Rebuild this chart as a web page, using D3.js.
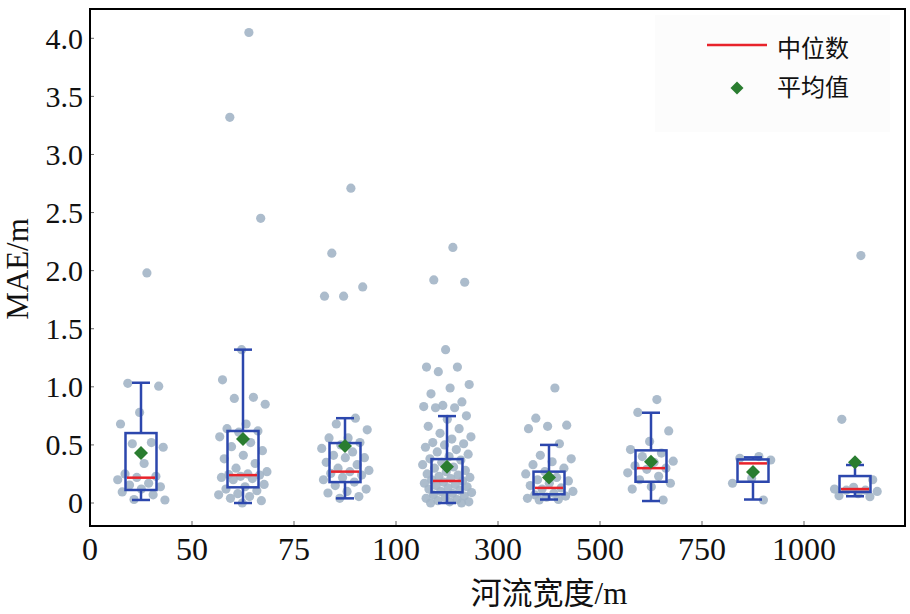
<!DOCTYPE html>
<html>
<head>
<meta charset="utf-8">
<script src="https://cdn.jsdelivr.net/npm/d3@7"></script>
<style>
  body { margin: 0; background: #fff; }
  svg text { font-family: "Liberation Serif", "Noto Sans CJK SC", serif; fill: #111; }
</style>
</head>
<body>
<div class="canvas"></div>
<script>
// river width bins and the tick labels drawn at their left edges
const bins = ['0-50', '50-75', '75-100', '100-300', '300-500', '500-750', '750-1000', '>1000'];
const tickLabels = ['0', '50', '75', '100', '300', '500', '750', '1000'];
const yTicks = [0, 0.5, 1.0, 1.5, 2.0, 2.5, 3.0, 3.5, 4.0];

// box statistics
const q1 = [0.112, 0.135, 0.18, 0.092, 0.075, 0.183, 0.183, 0.095];
const median = [0.218, 0.24, 0.27, 0.19, 0.13, 0.30, 0.341, 0.12];
const q3 = [0.602, 0.62, 0.516, 0.378, 0.27, 0.453, 0.375, 0.232];
const whiskerLow = [0.026, 0.0, 0.04, 0.0, 0.03, 0.017, 0.03, 0.058];
const whiskerHigh = [1.035, 1.32, 0.73, 0.748, 0.50, 0.777, 0.393, 0.327];
const mean = [0.43, 0.55, 0.49, 0.312, 0.22, 0.355, 0.267, 0.35];

// MAE of every river in each bin
const mae0 = [1.98, 1.03, 1.006, 0.78, 0.68, 0.52, 0.51, 0.48, 0.34, 0.25, 0.23, 0.22, 0.20, 0.17, 0.155, 0.14, 0.12, 0.095, 0.07, 0.03, 0.026];
const mae1 = [4.05, 3.32, 2.45, 1.32, 1.06, 0.91, 0.90, 0.85, 0.68, 0.64, 0.62, 0.61, 0.57, 0.52, 0.485, 0.45, 0.41, 0.38, 0.34, 0.30, 0.27, 0.25, 0.245, 0.24, 0.23, 0.22, 0.21, 0.20, 0.16, 0.14, 0.12, 0.106, 0.08, 0.07, 0.055, 0.04, 0.02, 0.0];
const mae2 = [2.71, 2.15, 1.86, 1.78, 1.78, 0.73, 0.68, 0.63, 0.56, 0.56, 0.52, 0.50, 0.47, 0.44, 0.41, 0.39, 0.39, 0.35, 0.33, 0.30, 0.28, 0.27, 0.255, 0.24, 0.22, 0.20, 0.18, 0.15, 0.12, 0.10, 0.086, 0.055, 0.04];
const mae3 = [2.20, 1.92, 1.90, 1.32, 1.17, 1.17, 1.13, 1.02, 0.99, 0.94, 0.87, 0.84, 0.83, 0.82, 0.82, 0.75, 0.72, 0.66, 0.64, 0.60, 0.57, 0.55, 0.52, 0.51, 0.50, 0.48, 0.46, 0.44, 0.42, 0.40, 0.38, 0.37, 0.35, 0.33, 0.31, 0.30, 0.28, 0.27, 0.25, 0.24, 0.23, 0.22, 0.21, 0.20, 0.19, 0.18, 0.17, 0.16, 0.15, 0.14, 0.13, 0.12, 0.11, 0.10, 0.09, 0.083, 0.07, 0.06, 0.05, 0.04, 0.03, 0.02, 0.01, 0.01, 0.0, 0.0];
const mae4 = [0.99, 0.73, 0.67, 0.66, 0.64, 0.51, 0.41, 0.38, 0.355, 0.33, 0.30, 0.27, 0.25, 0.22, 0.20, 0.19, 0.17, 0.15, 0.13, 0.12, 0.10, 0.083, 0.07, 0.06, 0.05, 0.04, 0.03, 0.026];
const mae5 = [0.89, 0.78, 0.62, 0.53, 0.46, 0.43, 0.40, 0.36, 0.35, 0.32, 0.30, 0.29, 0.26, 0.23, 0.20, 0.17, 0.14, 0.12, 0.026];
const mae6 = [0.40, 0.385, 0.37, 0.21, 0.17, 0.026];
const mae7 = [2.13, 0.72, 0.20, 0.135, 0.12, 0.11, 0.11, 0.10, 0.08, 0.063, 0.054];
const maeByBin = [mae0, mae1, mae2, mae3, mae4, mae5, mae6, mae7];

const blue = '#2c47ad', red = '#e8232b', green = '#2a7d30', dot = '#a3b5c7';

const svg = d3.select('.canvas')
  .append('svg')
  .attr('width', 910)
  .attr('height', 614);

const x = d3.scaleBand().domain(bins).range([90, 906]);
const y = d3.scaleLinear().domain([0, 4]).range([503, 38.3]);

// faint legend panel
svg.append('rect')
  .attr('x', 655).attr('y', 15).attr('width', 235).attr('height', 117)
  .attr('fill', '#fcfcfc');

// ticks pointing inward
svg.append('g').selectAll('line')
  .data(yTicks)
  .enter().append('line')
  .attr('x1', 90).attr('x2', 94)
  .attr('y1', d => y(d)).attr('y2', d => y(d))
  .attr('stroke', '#666').attr('stroke-width', 1);

svg.append('g').selectAll('line')
  .data(bins.slice(1))
  .enter().append('line')
  .attr('x1', d => x(d)).attr('x2', d => x(d))
  .attr('y1', 526).attr('y2', 521)
  .attr('stroke', '#666').attr('stroke-width', 1);

svg.append('g').selectAll('text')
  .data(yTicks)
  .enter().append('text')
  .attr('x', 83)
  .attr('y', d => y(d))
  .attr('dy', '0.34em')
  .attr('text-anchor', 'end')
  .style('font-size', '30px')
  .text(d => d === 0 ? '0' : d.toFixed(1));

svg.append('g').selectAll('text')
  .data(bins)
  .enter().append('text')
  .attr('x', d => x(d))
  .attr('y', 560)
  .attr('text-anchor', 'middle')
  .style('font-size', '32px')
  .text((d, i) => tickLabels[i]);

// jittered points, spread with a fixed golden-ratio sequence
const points = [];
maeByBin.forEach((vals, b) => {
  vals.forEach((v, i) => {
    const f = ((i + 1) * 0.6180339887) % 1;
    points.push({ bin: bins[b], value: v, off: (f - 0.5) * 50 });
  });
});

svg.append('g').selectAll('circle')
  .data(points)
  .enter().append('circle')
  .attr('cx', d => x(d.bin) + x.bandwidth() / 2 + d.off)
  .attr('cy', d => y(d.value))
  .attr('r', 4.6)
  .attr('fill', dot)
  .attr('fill-opacity', 0.9);

// boxes
const boxes = svg.append('g').selectAll('g')
  .data(bins)
  .enter().append('g')
  .attr('transform', d => `translate(${x(d) + x.bandwidth() / 2}, 0)`);

boxes.append('line')
  .attr('x1', 0).attr('x2', 0)
  .attr('y1', (d, i) => y(q3[i])).attr('y2', (d, i) => y(whiskerHigh[i]))
  .attr('stroke', blue).attr('stroke-width', 2.5);

boxes.append('line')
  .attr('x1', 0).attr('x2', 0)
  .attr('y1', (d, i) => y(q1[i])).attr('y2', (d, i) => y(whiskerLow[i]))
  .attr('stroke', blue).attr('stroke-width', 2.5);

boxes.append('line')
  .attr('x1', -9).attr('x2', 9)
  .attr('y1', (d, i) => y(whiskerHigh[i])).attr('y2', (d, i) => y(whiskerHigh[i]))
  .attr('stroke', blue).attr('stroke-width', 2.5);

boxes.append('line')
  .attr('x1', -9).attr('x2', 9)
  .attr('y1', (d, i) => y(whiskerLow[i])).attr('y2', (d, i) => y(whiskerLow[i]))
  .attr('stroke', blue).attr('stroke-width', 2.5);

boxes.append('rect')
  .attr('x', -15.5).attr('width', 31)
  .attr('y', (d, i) => y(q3[i]))
  .attr('height', (d, i) => y(q1[i]) - y(q3[i]))
  .attr('fill', 'none')
  .attr('stroke', blue).attr('stroke-width', 2.5);

boxes.append('line')
  .attr('x1', -14).attr('x2', 14)
  .attr('y1', (d, i) => y(median[i])).attr('y2', (d, i) => y(median[i]))
  .attr('stroke', red).attr('stroke-width', 2.5);

const diamond = 'M0,-7L7,0L0,7L-7,0Z';

boxes.append('path')
  .attr('d', diamond)
  .attr('transform', (d, i) => `translate(0, ${y(mean[i])})`)
  .attr('fill', green);

// frame
svg.append('rect')
  .attr('x', 90).attr('y', 9).attr('width', 815).attr('height', 517)
  .attr('fill', 'none')
  .attr('stroke', '#000').attr('stroke-width', 2);

// legend
svg.append('line')
  .attr('x1', 707).attr('x2', 767).attr('y1', 45).attr('y2', 45)
  .attr('stroke', red).attr('stroke-width', 2.5);
svg.append('text')
  .attr('x', 777).attr('y', 49).attr('dy', '0.35em')
  .style('font-size', '24px')
  .text('中位数');
svg.append('path')
  .attr('d', 'M0,-6.5L6.5,0L0,6.5L-6.5,0Z')
  .attr('transform', 'translate(737, 88)')
  .attr('fill', green);
svg.append('text')
  .attr('x', 777).attr('y', 88).attr('dy', '0.35em')
  .style('font-size', '24px')
  .text('平均值');

// axis titles
svg.append('text')
  .attr('transform', 'translate(17, 269) rotate(-90)')
  .attr('text-anchor', 'middle')
  .attr('dy', '0.35em')
  .style('font-size', '31px')
  .text('MAE/m');

svg.append('text')
  .attr('x', 549).attr('y', 593)
  .attr('dy', '0.35em')
  .attr('text-anchor', 'middle')
  .style('font-size', '31px')
  .text('河流宽度/m');
</script>
</body>
</html>
